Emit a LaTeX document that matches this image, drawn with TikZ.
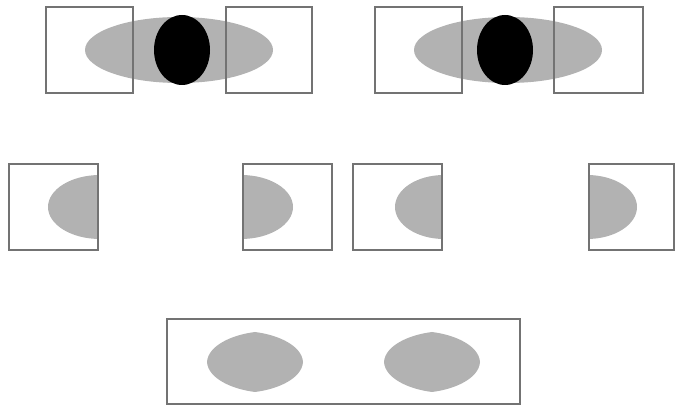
\documentclass[tikz,border=0pt]{standalone}
\usepackage{tikz}

\begin{document}
\begin{tikzpicture}[x=1pt, y=-1pt]

    % Define the styles
    \tikzstyle{frame} = [draw=black!55, line width=1.3pt]
    \tikzstyle{halo} = [fill=black!30]
    \tikzstyle{core} = [fill=black]

    \useasboundingbox (0,0) rectangle (675,411);

    % Top row, left group
    \fill [halo] (179,50) ellipse [x radius=94pt, y radius=33pt];
    \fill [core] (182,50) ellipse [x radius=28pt, y radius=35pt];
    \draw [frame] (46,7) rectangle (133,93);
    \draw [frame] (226,7) rectangle (312,93);

    % Top row, right group
    \fill [halo] (508,50) ellipse [x radius=94pt, y radius=33pt];
    \fill [core] (505,50) ellipse [x radius=28pt, y radius=35pt];
    \draw [frame] (375,7) rectangle (462,93);
    \draw [frame] (554,7) rectangle (643,93);

    % Middle row: clipped halves
    \begin{scope}
        \clip (9,164) rectangle (98,250);
        \fill [halo] (100,207) ellipse [x radius=52pt, y radius=32pt];
    \end{scope}
    \draw [frame] (9,164) rectangle (98,250);

    \begin{scope}
        \clip (243,164) rectangle (332,250);
        \fill [halo] (241,207) ellipse [x radius=52pt, y radius=32pt];
    \end{scope}
    \draw [frame] (243,164) rectangle (332,250);

    \begin{scope}
        \clip (353,164) rectangle (442,250);
        \fill [halo] (444,207) ellipse [x radius=49pt, y radius=32pt];
    \end{scope}
    \draw [frame] (353,164) rectangle (442,250);

    \begin{scope}
        \clip (589,164) rectangle (674,250);
        \fill [halo] (587,207) ellipse [x radius=50pt, y radius=32pt];
    \end{scope}
    \draw [frame] (589,164) rectangle (674,250);

    % Bottom row
    \foreach \cx in {255, 432} {
        \fill [halo] (\cx-48,362)
            .. controls (\cx-47,346) and (\cx-24,335) .. (\cx,332)
            .. controls (\cx+24,335) and (\cx+47,346) .. (\cx+48,362)
            .. controls (\cx+47,378) and (\cx+24,389) .. (\cx,392)
            .. controls (\cx-24,389) and (\cx-47,378) .. (\cx-48,362) -- cycle;
    }
    \draw [frame] (167,319) rectangle (520,404);

\end{tikzpicture}
\end{document}
